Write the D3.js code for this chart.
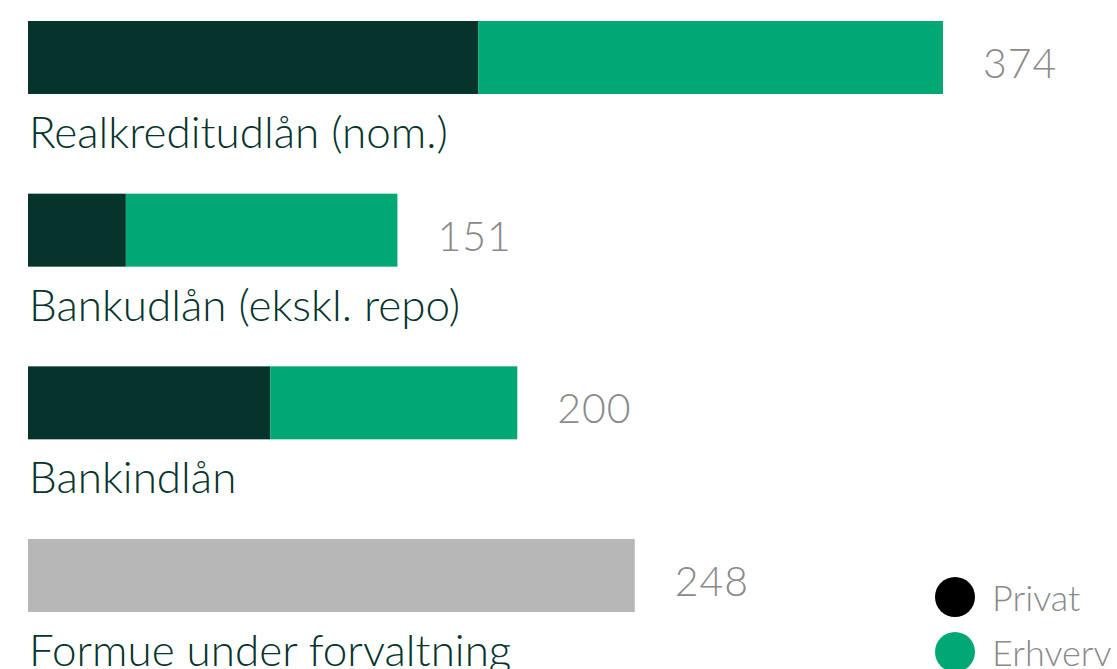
<!DOCTYPE html>
<html>
<head>
<meta charset="utf-8">
<style>
  body { margin: 0; background: #fff; }
  .cat { fill: #04342c; font-family: Lato, "Open Sans", sans-serif; font-weight: 300; font-size: 44px; }
  .val { fill: #8a8a8a; font-family: Lato, "Open Sans", sans-serif; font-weight: 300; font-size: 41px; letter-spacing: 1px; }
  .leg { fill: #8a8a8a; font-family: Lato, "Open Sans", sans-serif; font-weight: 300; font-size: 36px; }
</style>
<script src="https://d3js.org/d3.v7.min.js"></script>
</head>
<body>
<div class="container"></div>
<script>
// data
var categories = ["Realkreditudlån (nom.)", "Bankudlån (ekskl. repo)", "Bankindlån", "Formue under forvaltning"];
var privat  = [184, 40, 99, 0];
var erhverv = [190, 111, 101, 0];
var formue  = [0, 0, 0, 248];
var totals  = [374, 151, 200, 248];
var legendLabels = ["Privat", "Erhverv"];

var width = 1117, height = 669;
var colors = { privat: "#04342c", erhverv: "#02a874", formue: "#b7b7b7" };
var legendColors = ["#000000", "#02a874"];

var svg = d3.select(".container").append("svg")
  .attr("width", width).attr("height", height);

var x = d3.scaleLinear().domain([0, 374]).range([28, 943]);
// step ~172.7px, bar height ~73px
var y = d3.scaleBand().domain(categories).range([21, 612]).paddingInner(0.5773).paddingOuter(0);

var rows = categories.map(function(c, i) {
  return { cat: c, privat: privat[i], erhverv: erhverv[i], formue: formue[i], total: totals[i] };
});

var stack = d3.stack().keys(["privat", "erhverv", "formue"]);
var series = stack(rows);

var g = svg.append("g");
g.selectAll(".layer")
  .data(series)
  .enter().append("g")
  .attr("fill", function(d) { return colors[d.key]; })
  .selectAll("rect")
  .data(function(d) { return d; })
  .enter().append("rect")
  .attr("x", function(d) { return x(d[0]); })
  .attr("y", function(d) { return y(d.data.cat); })
  .attr("width", function(d) { return x(d[1]) - x(d[0]); })
  .attr("height", y.bandwidth());

// value labels
g.selectAll(".val")
  .data(rows)
  .enter().append("text")
  .attr("class", "val")
  .attr("x", function(d) { return x(d.total) + 40; })
  .attr("y", function(d) { return y(d.cat) + 57; })
  .text(function(d) { return d.total; });

// category labels
g.selectAll(".cat")
  .data(rows)
  .enter().append("text")
  .attr("class", "cat")
  .attr("x", 29)
  .attr("y", function(d) { return y(d.cat) + y.bandwidth() + 54; })
  .text(function(d) { return d.cat; });

// legend
var leg = svg.selectAll(".legitem")
  .data(legendLabels)
  .enter().append("g")
  .attr("transform", function(d, i) { return "translate(955," + (597 + i * 55) + ")"; });
leg.append("circle").attr("r", 20).attr("fill", function(d, i) { return legendColors[i]; });
leg.append("text").attr("class", "leg").attr("x", 37).attr("y", 14).text(function(d) { return d; });
</script>
</body>
</html>
